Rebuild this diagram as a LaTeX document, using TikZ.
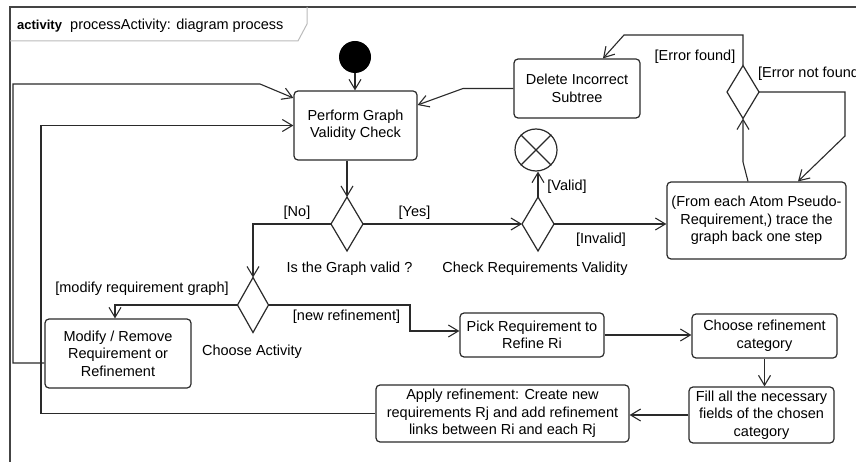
\documentclass[tikz,border=0pt]{standalone}
\usepackage{fontspec}
\setmainfont{Liberation Sans}
\usetikzlibrary{arrows.meta,shapes.geometric}
\definecolor{ln}{HTML}{2A2A2A}
\definecolor{frm}{HTML}{444444}
\definecolor{tabc}{HTML}{BBBBBB}
\begin{document}
\begin{tikzpicture}[x=1pt,y=-1pt,
  txt/.style={font=\fontsize{14.5}{17.5}\selectfont, inner sep=0pt, text=black},
  act/.style={txt, draw=ln, line width=1.2pt, rounded corners=4pt, align=center, fill=white},
  dec/.style={diamond, draw=ln, line width=1.2pt, inner sep=0pt, outer sep=0pt, fill=white},
  flow/.style={draw=ln, line width=1.1pt, -{Straight Barb[length=10pt,width=12pt,line width=1.1pt]}},
  lbl/.style={txt}
]
\clip (0,0) rectangle (856,462);
\fill[white] (0,0) rectangle (856,462);
% frame
\draw[frm, line width=1.6pt] (10,470) -- (10,7) -- (870,7);
\draw[tabc, line width=1pt] (10,41) -- (298,41) -- (307,24) -- (307,7);
\node[anchor=base west, inner sep=0pt, font=\bfseries\fontsize{13}{15}\selectfont] (hkw) at (17,29.5) {activity};
\node[anchor=base west, inner sep=0pt, font=\fontsize{14.5}{17.5}\selectfont] (htitle) at (70,29.5) {processActivity: diagram process};

% nodes
\node[circle, fill=black, minimum size=32pt, inner sep=0pt] (start) at (355,57) {};
\node[act, minimum width=123pt, minimum height=69pt] (perform) at (355.5,125.5) {Perform Graph\\Validity Check};
\node[act, minimum width=126pt, minimum height=59pt] (delete) at (577,88.5) {Delete Incorrect\\Subtree};
\node[act, minimum width=179pt, minimum height=77pt] (trace) at (756.5,220.5) {(From each Atom Pseudo-\\Requirement,) trace the\\graph back one step};
\node[act, minimum width=146pt, minimum height=69pt] (modify) at (118,353.5) {Modify / Remove\\Requirement or\\Refinement};
\node[act, minimum width=144pt, minimum height=44pt] (pick) at (532,335) {Pick Requirement to\\Refine Ri};
\node[act, minimum width=145pt, minimum height=44pt] (chref) at (764.5,336) {Choose refinement\\category};
\node[act, minimum width=145pt, minimum height=56pt] (fill) at (761.5,415) {Fill all the necessary\\fields of the chosen\\category};
\node[act, minimum width=253pt, minimum height=57pt] (apply) at (502.5,413.5) {Apply refinement: Create new\\requirements Rj and add refinement\\links between Ri and each Rj};

\node[dec, minimum width=32pt, minimum height=54pt] (isvalid) at (347,224) {};
\node[dec, minimum width=32pt, minimum height=54pt] (check) at (538,224) {};
\node[dec, minimum width=31pt, minimum height=55pt] (choose) at (253,305) {};
\node[dec, minimum width=32pt, minimum height=53pt] (errdec) at (743,92) {};

\node[circle, draw=ln, line width=1.2pt, minimum size=42pt, inner sep=0pt, fill=white] (final) at (536,150) {};
\draw[ln, line width=1.2pt] (final.north west) -- (final.south east);
\draw[ln, line width=1.2pt] (final.north east) -- (final.south west);

% labels
\node[lbl] (lisvalid) at (349.5,269) {Is the Graph valid ?};
\node[lbl] (lcheck) at (535,269) {Check Requirements Validity};
\node[lbl] (lchoose) at (252,352) {Choose Activity};
\node[lbl] (lyes) at (414.5,213) {[Yes]};
\node[lbl] (lno) at (297,213) {[No]};
\node[lbl] (lvalid) at (567,187) {[Valid]};
\node[lbl] (linvalid) at (601,240) {[Invalid]};
\node[lbl] (lerrf) at (695,57) {[Error found]};
\node[lbl, anchor=west] (lerrnf) at (758,74) {[Error not found]};
\node[lbl] (lmod) at (142,289) {[modify requirement graph]};
\node[lbl] (lnew) at (346.5,317) {[new refinement]};

% connectors
\draw[flow] (start.south) -- (start.south |- perform.north);
\draw[flow] (isvalid.north |- perform.south) -- (isvalid.north);
\draw[flow] (isvalid.east) -- (check.west);
\draw[flow] (isvalid.west) -| (choose.north);
\draw[flow] (check.north) -- (check.north |- final.south);
\draw[flow] (check.east) -- (check.east -| trace.west);
\draw[flow] ([xshift=-8.5pt]trace.north) -- (743,162) -- (errdec.south);
\draw[flow] (errdec.north) -- (743,35) -- (624,35) -- ([xshift=26pt]delete.north);
\draw[flow] (errdec.east) -- (845,92) -- (845,136) -- ([xshift=41.5pt]trace.north);
\draw[flow] (delete.west) -- (463,88.5) -- ([yshift=20.5pt]perform.east);
\draw[flow] (choose.west) -| ([xshift=-3pt]modify.north);
\draw[flow] (choose.east) -- (410,305) |- ([yshift=4pt]pick.west);
\draw[flow] (pick.east) -- (pick.east -| chref.west);
\draw[flow] (chref.south) -- (chref.south |- fill.north);
\draw[flow] (fill.west) -- (fill.west -| apply.east);
\draw[flow] (apply.west) -- (41,413.5) |- (perform.west);
\draw[flow] ([yshift=-9.5pt]modify.west) -- (13,363) -- (13,84) -- (260,84) -- ([yshift=27.5pt]perform.west);
\end{tikzpicture}
\end{document}
